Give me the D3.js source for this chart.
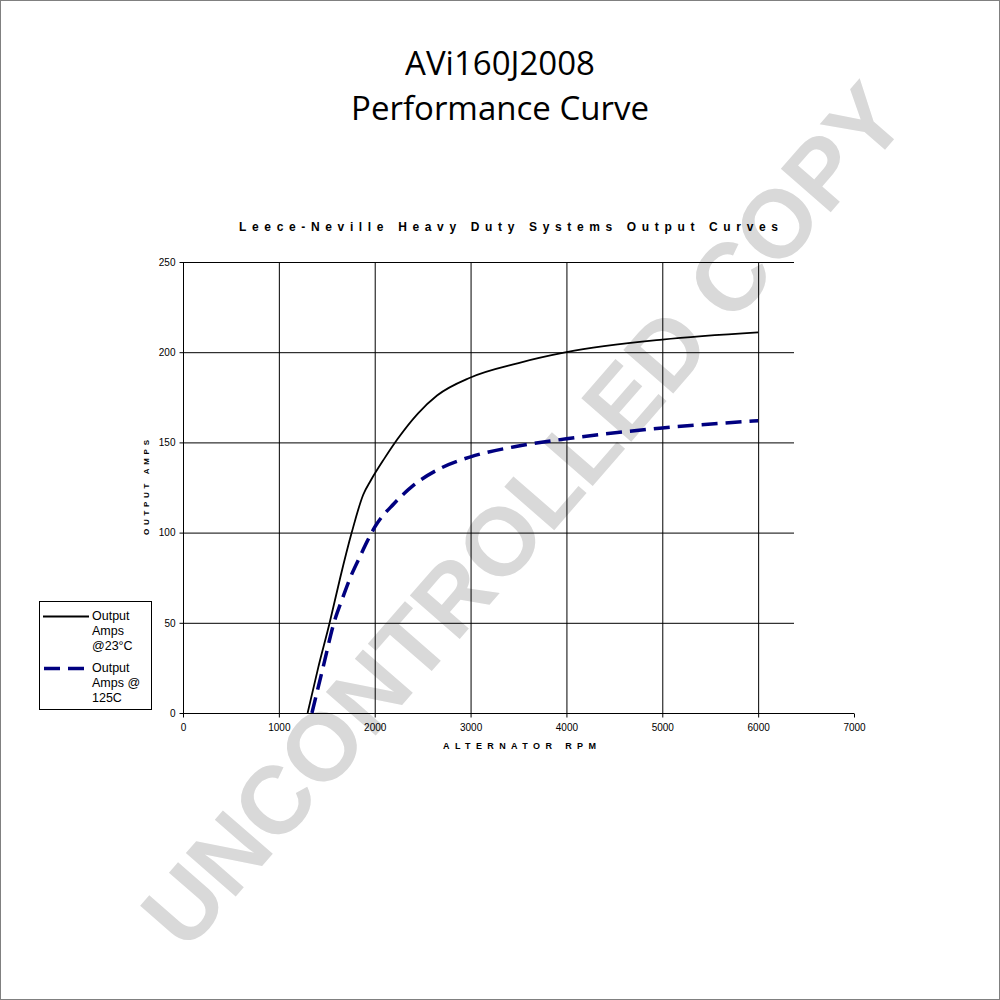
<!DOCTYPE html>
<html><head><meta charset="utf-8">
<script src="https://cdn.jsdelivr.net/npm/d3@7"></script>
<style>body{margin:0;background:#fff}svg{display:block}</style>
</head><body>
<svg id="c" width="1000" height="1000"></svg>
<script>
const titleLines = ["AVi160J2008", "Performance Curve"];
const subtitle = "Leece-Neville Heavy Duty Systems Output Curves";
const xLabel = "ALTERNATOR RPM";
const yLabel = "OUTPUT AMPS";
const watermark = "UNCONTROLLED COPY";
const xTicks = [0, 1000, 2000, 3000, 4000, 5000, 6000, 7000];
const yTicks = [0, 50, 100, 150, 200, 250];
const seriesNames = [["Output", "Amps", "@23°C"], ["Output", "Amps @", "125C"]];
const rpm23 = [1300, 1410, 1530, 1640, 1760, 1880, 1960, 2100, 2240, 2450, 2650, 3000, 3500, 4000, 5000, 6000];
const amps23 = [0, 25, 50, 75, 100, 121, 129, 141, 152, 166, 176, 186, 194, 200, 207, 211];
const rpm125 = [1345, 1460, 1575, 1660, 1745, 1840, 1920, 2000, 2200, 2400, 2700, 3000, 3500, 4000, 5000, 6000];
const amps125 = [0, 25, 50, 63, 75, 86, 95, 103, 116, 126, 136, 142, 148, 152, 158, 162];

const svg = d3.select("#c");
svg.append("rect").attr("x",0.5).attr("y",0.5).attr("width",999).attr("height",999)
  .attr("fill","#fff").attr("stroke","#808080");

// watermark
svg.append("text").text(watermark)
  .attr("transform","translate(523,515) rotate(-49)")
  .attr("text-anchor","middle").attr("dominant-baseline","central")
  .attr("font-family","Liberation Sans, Arial, sans-serif").attr("font-weight","bold")
  .attr("font-size",96).attr("fill","#d9d9d9");

// titles
titleLines.forEach((t,i)=>{
  svg.append("text").text(t).attr("x",500).attr("y",75+i*45)
    .attr("text-anchor","middle").attr("font-family","Open Sans, sans-serif")
    .attr("font-size",33).attr("fill","#000");
});
svg.append("text").text(subtitle).attr("x",239).attr("y",231)
  .attr("textLength",539).attr("lengthAdjust","spacing")
  .attr("font-family","Liberation Sans, Arial, sans-serif").attr("font-weight","bold")
  .attr("font-size",12).attr("fill","#000");

const x = d3.scaleLinear().domain([0,7000]).range([183,854]);
const y = d3.scaleLinear().domain([0,250]).range([713,262]);
const gridRight = 794;

const g = svg.append("g");
g.selectAll("line.h").data(yTicks.filter(d=>d>0)).join("line")
  .attr("x1",183).attr("x2",gridRight).attr("y1",d=>y(d)+0.5).attr("y2",d=>y(d)+0.5)
  .attr("stroke","#000").attr("stroke-width",1);
g.selectAll("line.v").data(xTicks.filter(d=>d>0 && d<7000)).join("line")
  .attr("x1",d=>x(d)+0.5).attr("x2",d=>x(d)+0.5).attr("y1",262).attr("y2",713)
  .attr("stroke","#000").attr("stroke-width",1);

const xAxis = d3.axisBottom(x).tickValues(xTicks).tickSize(4).tickPadding(6).tickFormat(d=>d);
const yAxis = d3.axisLeft(y).tickValues(yTicks).tickSize(4).tickPadding(4);
const xa = svg.append("g").attr("transform","translate(0,713.5)").call(xAxis);
const ya = svg.append("g").attr("transform","translate(183.5,0)").call(yAxis);
[xa,ya].forEach(a=>{
  a.select(".domain").attr("stroke","#000");
  a.selectAll(".tick line").attr("stroke","#000");
  a.selectAll("text").attr("font-family","Liberation Sans, Arial, sans-serif")
    .attr("font-size",10).attr("fill","#000");
});
ya.select(".domain").attr("d","M0,262V713");
xa.select(".domain").attr("d","M183,0H854");

svg.append("text").text(xLabel).attr("x",443).attr("y",749)
  .attr("textLength",153).attr("lengthAdjust","spacing")
  .attr("font-family","Liberation Sans, Arial, sans-serif").attr("font-weight","bold")
  .attr("font-size",9).attr("fill","#000");
svg.append("text").text(yLabel).attr("transform","translate(149,535) rotate(-90)")
  .attr("textLength",95).attr("lengthAdjust","spacing")
  .attr("font-family","Liberation Sans, Arial, sans-serif").attr("font-weight","bold")
  .attr("font-size",8).attr("fill","#000");

const line = d3.line().x(d=>x(d[0])).y(d=>y(d[1])).curve(d3.curveMonotoneX);
svg.append("path").datum(d3.zip(rpm23, amps23)).attr("d",line)
  .attr("fill","none").attr("stroke","#000").attr("stroke-width",1.8);
svg.append("path").datum(d3.zip(rpm125, amps125)).attr("d",line)
  .attr("fill","none").attr("stroke","#000080").attr("stroke-width",3.5)
  .attr("stroke-dasharray","16,8");

const lg = svg.append("g");
lg.append("rect").attr("x",39.5).attr("y",601.5).attr("width",112).attr("height",108)
  .attr("fill","#fff").attr("stroke","#000");
lg.append("line").attr("x1",43).attr("x2",89).attr("y1",616.5).attr("y2",616.5)
  .attr("stroke","#000").attr("stroke-width",1.8);
lg.append("line").attr("x1",44).attr("x2",89).attr("y1",668.5).attr("y2",668.5)
  .attr("stroke","#000080").attr("stroke-width",3.5).attr("stroke-dasharray","16,8");
seriesNames.forEach((lines,i)=>{
  lines.forEach((t,j)=>{
    lg.append("text").text(t).attr("x",92).attr("y",620+i*52+j*15)
      .attr("font-family","Liberation Sans, Arial, sans-serif").attr("font-size",12.5)
      .attr("fill","#000");
  });
});
</script>
</body></html>
